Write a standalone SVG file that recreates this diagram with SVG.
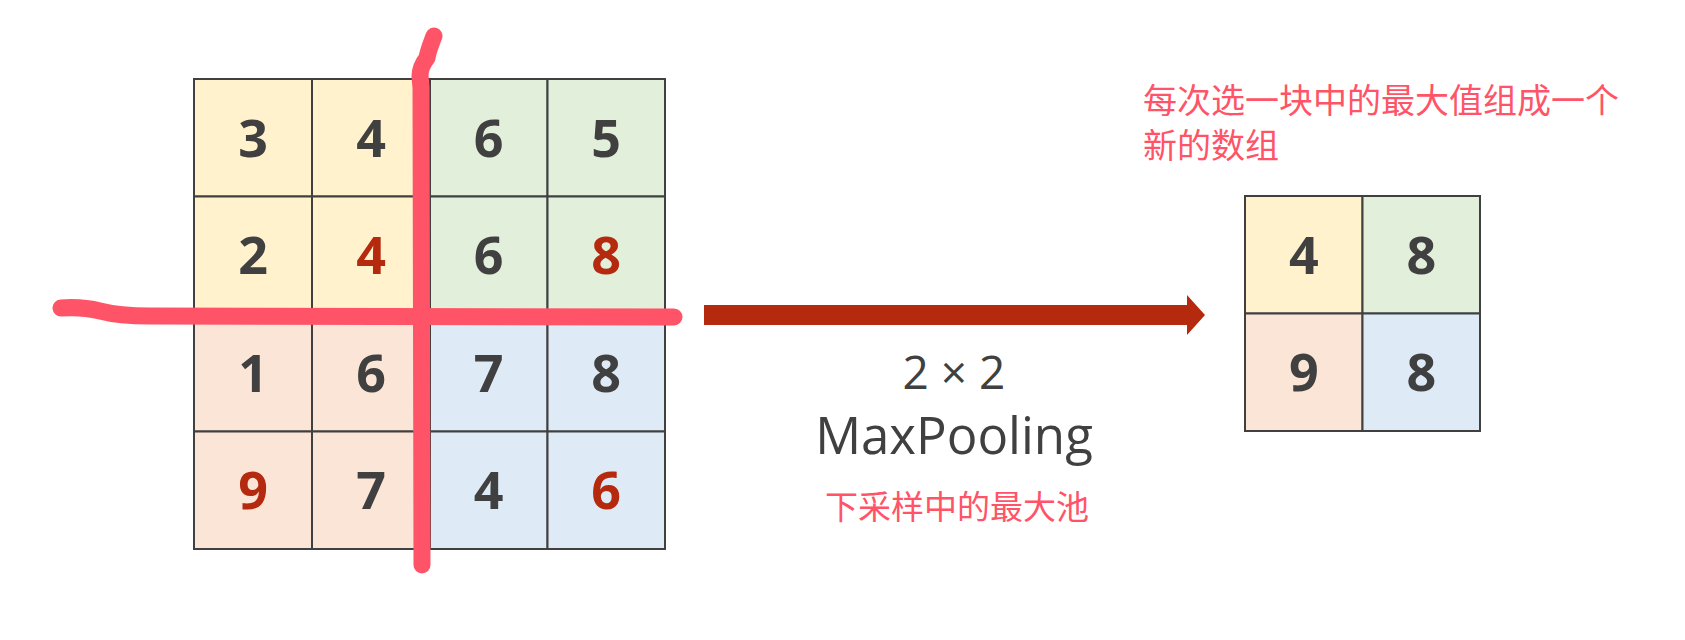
<svg xmlns="http://www.w3.org/2000/svg" width="1685" height="640" viewBox="0 0 1685 640">
<style>
.cell{stroke:#404040;stroke-width:2}
.y{fill:#FFF2CC}.g{fill:#E2EFDA}.p{fill:#FBE5D6}.b{fill:#DEEBF7}
.n{font-family:"Open Sans","Liberation Sans",sans-serif;font-weight:bold;font-size:52px;text-anchor:middle;fill:#404040}
.r{fill:#B5290F}
.lbl{font-family:"Open Sans","Liberation Sans",sans-serif;text-anchor:middle;fill:#404040}
.cn{font-family:"Noto Sans CJK SC",sans-serif;fill:#FF5468}
.pen{fill:none;stroke:#FF5468;stroke-width:17;stroke-linecap:round;stroke-linejoin:round}
</style>
<rect width="1685" height="640" fill="#FFFFFF"/>
<g id="input-grid">
<rect class="cell y" x="194" y="79" width="118" height="117.5"/>
<rect class="cell y" x="312" y="79" width="118" height="117.5"/>
<rect class="cell g" x="430" y="79" width="117.5" height="117.5"/>
<rect class="cell g" x="547.5" y="79" width="117.5" height="117.5"/>
<rect class="cell y" x="194" y="196.5" width="118" height="117.5"/>
<rect class="cell y" x="312" y="196.5" width="118" height="117.5"/>
<rect class="cell g" x="430" y="196.5" width="117.5" height="117.5"/>
<rect class="cell g" x="547.5" y="196.5" width="117.5" height="117.5"/>
<rect class="cell p" x="194" y="314" width="118" height="117.5"/>
<rect class="cell p" x="312" y="314" width="118" height="117.5"/>
<rect class="cell b" x="430" y="314" width="117.5" height="117.5"/>
<rect class="cell b" x="547.5" y="314" width="117.5" height="117.5"/>
<rect class="cell p" x="194" y="431.5" width="118" height="117.5"/>
<rect class="cell p" x="312" y="431.5" width="118" height="117.5"/>
<rect class="cell b" x="430" y="431.5" width="117.5" height="117.5"/>
<rect class="cell b" x="547.5" y="431.5" width="117.5" height="117.5"/>
<text class="n" x="253" y="156.5">3</text>
<text class="n" x="371" y="156.5">4</text>
<text class="n" x="488.5" y="156.5">6</text>
<text class="n" x="606" y="156.5">5</text>
<text class="n" x="253" y="274">2</text>
<text class="n r" x="371" y="274">4</text>
<text class="n" x="488.5" y="274">6</text>
<text class="n r" x="606" y="274">8</text>
<text class="n" x="253" y="391.5">1</text>
<text class="n" x="371" y="391.5">6</text>
<text class="n" x="488.5" y="391.5">7</text>
<text class="n" x="606" y="391.5">8</text>
<text class="n r" x="253" y="509">9</text>
<text class="n" x="371" y="509">7</text>
<text class="n" x="488.5" y="509">4</text>
<text class="n r" x="606" y="509">6</text>
</g>
<g id="pen-marks">
<path class="pen" d="M434,36 C431,44 428,51 427,58 C423,63 420,68 420,76 L421,88 L422,565"/>
<path class="pen" d="M61,308 C75,307 88,308 100,311 C115,315 128,316 150,316 L674,317"/>
</g>
<g id="connectors">
<path d="M704,305 L1187,305 L1187,295 L1205,315 L1187,335 L1187,325 L704,325 Z" fill="#B5290F"/>
</g>
<g id="op-label">
<text class="lbl" x="954" y="389" font-size="46">2 × 2</text>
<text class="lbl" x="954" y="454" font-size="51">MaxPooling</text>
<text class="cn" x="957" y="519" font-size="33" text-anchor="middle">下采样中的最大池</text>
</g>
<g id="note">
<text class="cn" x="1143" y="113" font-size="34">每次选一块中的最大值组成一个</text>
<text class="cn" x="1143" y="158" font-size="34">新的数组</text>
</g>
<g id="output-grid">
<rect class="cell y" x="1245" y="196" width="117.5" height="117.5"/>
<rect class="cell g" x="1362.5" y="196" width="117.5" height="117.5"/>
<rect class="cell p" x="1245" y="313.5" width="117.5" height="117.5"/>
<rect class="cell b" x="1362.5" y="313.5" width="117.5" height="117.5"/>
<text class="n" x="1303.75" y="273.5">4</text>
<text class="n" x="1421.25" y="273.5">8</text>
<text class="n" x="1303.75" y="391">9</text>
<text class="n" x="1421.25" y="391">8</text>
</g>
</svg>
